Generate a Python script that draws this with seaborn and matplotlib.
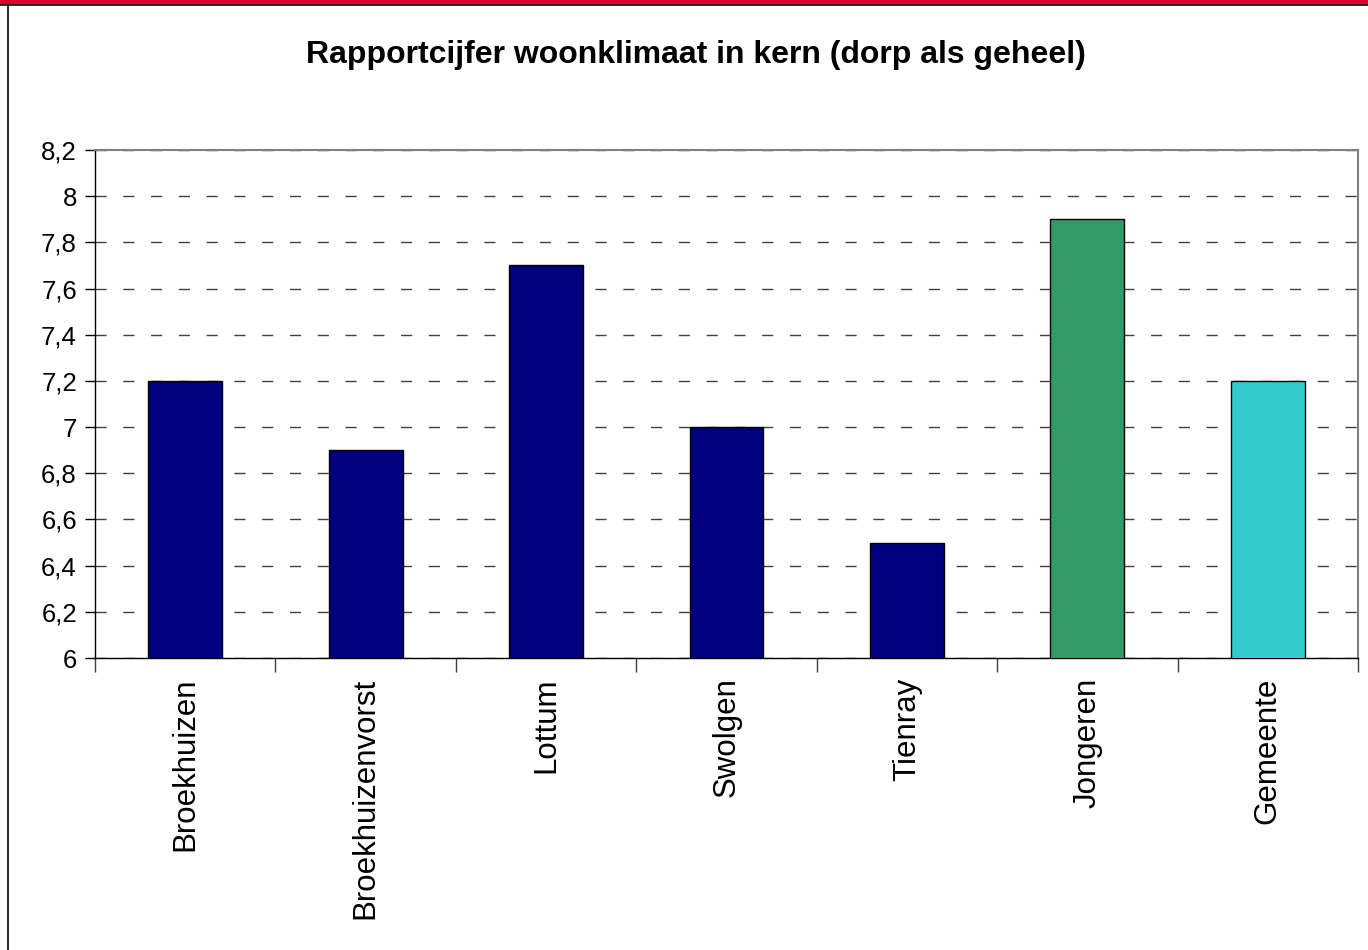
import numpy as np
import pandas as pd
import seaborn as sns
import matplotlib.pyplot as plt
from matplotlib.lines import Line2D
from matplotlib.patches import Rectangle
from matplotlib.ticker import FuncFormatter, FixedLocator

# === Data ===
kernen = ["Broekhuizen", "Broekhuizenvorst", "Lottum", "Swolgen", "Tienray", "Jongeren", "Gemeente"]
cijfers = [7.2, 6.9, 7.7, 7.0, 6.5, 7.9, 7.2]
kleuren = ["#000080", "#000080", "#000080", "#000080", "#000080", "#339966", "#33CCCC"]
y_ticks = [6.0, 6.2, 6.4, 6.6, 6.8, 7.0, 7.2, 7.4, 7.6, 7.8, 8.0, 8.2]

df = pd.DataFrame({"kern": kernen, "cijfer": cijfers})

# === Style ===
sns.set_style("white")
plt.rcParams["font.family"] = ["Liberation Sans", "DejaVu Sans"]
plt.rcParams["text.color"] = "black"
plt.rcParams["xtick.color"] = "black"
plt.rcParams["ytick.color"] = "black"

fig = plt.figure(figsize=(13.68, 9.5), dpi=100)
ax = fig.add_axes([95 / 1368, 1 - 658 / 950, (1358 - 95) / 1368, (658 - 150) / 950])

sns.barplot(data=df, x="kern", y="cijfer", hue="kern", palette=kleuren,
            legend=False, width=0.41, edgecolor="black", linewidth=1,
            saturation=1, ax=ax, zorder=3)

ax.set_ylim(6, 8.2)
ax.set_xlim(-0.5, len(kernen) - 0.5)
ax.yaxis.set_major_locator(FixedLocator(y_ticks))
ax.yaxis.set_major_formatter(FuncFormatter(lambda v, p: f"{v:g}".replace(".", ",")))
ax.tick_params(axis="y", labelsize=18.5, length=7, width=1, color="black",
               labelcolor="black", direction="out", left=True, pad=6)

# category labels, ticks at the boundaries
ax.set_xticks(range(len(kernen)))
ax.set_xticklabels(kernen, rotation=90, fontsize=22.5)
ax.tick_params(axis="x", which="major", length=0, pad=14, labelcolor="black")
ax.set_xticks(np.arange(-0.5, len(kernen)), minor=True)
ax.tick_params(axis="x", which="minor", length=10, width=1, color="#404040", direction="out", bottom=True)
ax.set_xlabel("")
ax.set_ylabel("")

# dashed gridlines
ax.yaxis.grid(True, color="#404040", linewidth=1, linestyle=(0, (8, 12)), zorder=0)
ax.set_axisbelow(True)

for side in ["top", "right"]:
    ax.spines[side].set_color("#808080")
    ax.spines[side].set_linewidth(1.5)
for side in ["left", "bottom"]:
    ax.spines[side].set_color("black")
    ax.spines[side].set_linewidth(1)

fig.text(696 / 1368, 1 - 55 / 950, "Rapportcijfer woonklimaat in kern (dorp als geheel)",
         ha="center", va="center", fontsize=23, fontweight="bold", color="black")

# frame decoration: red band on top, black lines
fig.add_artist(Rectangle((0, 1 - 4 / 950), 1, 4 / 950, transform=fig.transFigure, color="#E0002A", lw=0))
fig.add_artist(Line2D([0, 1], [1 - 5 / 950, 1 - 5 / 950], transform=fig.transFigure, color="black", lw=1.2))
fig.add_artist(Line2D([8 / 1368, 8 / 1368], [0, 1 - 5 / 950], transform=fig.transFigure, color="black", lw=1.2))

fig.savefig("out.png", dpi=100)
